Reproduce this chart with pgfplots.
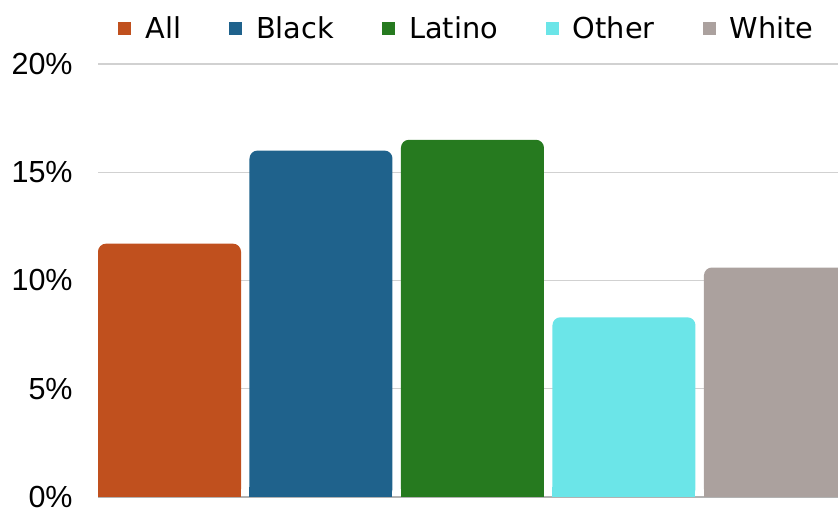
\documentclass[border=0pt]{standalone}
\usepackage{pgfplots}
\pgfplotsset{compat=1.18}
\usepackage{fontspec}
\setmainfont{Liberation Sans}
\newfontfamily\legfont{DejaVu Sans}
\definecolor{cAll}{HTML}{C0501E}
\definecolor{cBlack}{HTML}{1F628C}
\definecolor{cLatino}{HTML}{267A1F}
\definecolor{cOther}{HTML}{6BE5E8}
\definecolor{cWhite}{HTML}{ABA19E}
\pgfplotstableread{
x y
0 11.7
}\tAll
\pgfplotstableread{
x y
1 16.0
}\tBlack
\pgfplotstableread{
x y
2 16.5
}\tLatino
\pgfplotstableread{
x y
3 8.3
}\tOther
\pgfplotstableread{
x y
4 10.6
}\tWhite
\begin{document}
\begin{tikzpicture}
\begin{axis}[
  name=ax,
  scale only axis, width=370pt, height=216.5pt,
  xmin=-0.472, xmax=4.413, ymin=0, ymax=20,
  ybar, bar width=71.5pt, bar shift=0pt,
  axis x line*=bottom, axis y line*=left,
  y axis line style={draw=none},
  x axis line style={draw=black!30, line width=0.8pt, -},
  xtick=\empty,
  ytick={0,5,10,15,20},
  yticklabels={0\%,5\%,10\%,15\%,20\%},
  major tick length=0pt,
  yticklabel style={font=\fontsize{15.25}{17}\selectfont, inner sep=0pt, anchor=east, xshift=-12.5pt},
  ymajorgrids, grid style={draw=black!18, line width=0.6pt},
  legend columns=5,
  legend image code/.code={\fill[#1, sharp corners] (0pt,-3.25pt) rectangle (6.5pt,3.25pt);},
  legend style={draw=none, fill=none, at={(rel axis cs:0.5,1)}, anchor=center, yshift=17.5pt,
    font=\legfont\fontsize{14.4}{16}\selectfont, cells={anchor=west},
    /tikz/every odd column/.append style={column sep=5pt},
    /tikz/every even column/.append style={column sep=22pt}},
]
\addplot[fill=cAll, draw=none, rounded corners=4pt] table {\tAll};
\addlegendentry{All}
\addplot[fill=cBlack, draw=none, rounded corners=4pt] table {\tBlack};
\addlegendentry{Black}
\addplot[fill=cLatino, draw=none, rounded corners=4pt] table {\tLatino};
\addlegendentry{Latino}
\addplot[fill=cOther, draw=none, rounded corners=4pt] table {\tOther};
\addlegendentry{Other}
\addplot[fill=cWhite, draw=none, rounded corners=4pt] table {\tWhite};
\addlegendentry{White}
\begin{scope}
\clip (axis cs:-1,0) rectangle (axis cs:5,0.45);
\addplot[fill=cAll, draw=none, sharp corners, forget plot] table {\tAll};
\addplot[fill=cBlack, draw=none, sharp corners, forget plot] table {\tBlack};
\addplot[fill=cLatino, draw=none, sharp corners, forget plot] table {\tLatino};
\addplot[fill=cOther, draw=none, sharp corners, forget plot] table {\tOther};
\addplot[fill=cWhite, draw=none, sharp corners, forget plot] table {\tWhite};
\end{scope}
\end{axis}
\pgfresetboundingbox
\path[use as bounding box] ([shift={(-49pt,-7.5pt)}]ax.south west) rectangle ++(419pt,256pt);
\end{tikzpicture}
\end{document}
